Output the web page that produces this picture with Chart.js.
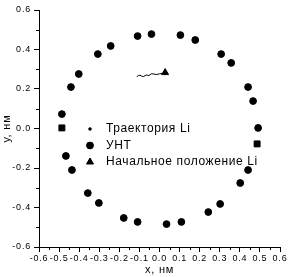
<!DOCTYPE html>
<html><head><meta charset="utf-8">
<script src="https://cdn.jsdelivr.net/npm/chart.js@4/dist/chart.umd.min.js"></script>
<style>html,body{margin:0;padding:0;background:#fff}#wrap{width:290px;height:277px}</style>
</head><body><div id="wrap"><canvas id="c" width="290" height="277"></canvas></div>
<script>
const xTicks = [-0.6,-0.5,-0.4,-0.3,-0.2,-0.1,0.0,0.1,0.2,0.3,0.4,0.5,0.6];
const yTicks = [-0.6,-0.4,-0.2,0.0,0.2,0.4,0.6];
const trajLabel = 'Траектория Li';
const cntLabel = 'УНТ';
const startLabel = 'Начальное положение Li';
const trajX = [-0.113,-0.105,-0.097,-0.089,-0.079,-0.066,-0.053,-0.041,-0.028,-0.016,0.0,0.012,0.025,0.041];
const trajY = [0.262,0.268,0.270,0.265,0.263,0.271,0.268,0.277,0.276,0.273,0.277,0.279,0.276,0.276];
const cntX = [-0.04,0.104,0.178,0.307,0.357,0.441,0.466,0.491,0.441,0.402,0.302,0.243,0.109,0.035,-0.109,-0.178,-0.302,-0.357,-0.436,-0.466,-0.486,-0.441,-0.402,-0.307,-0.243,-0.109];
const cntY = [0.478,0.473,0.448,0.377,0.332,0.21,0.139,0.003,-0.21,-0.276,-0.382,-0.423,-0.473,-0.484,-0.473,-0.453,-0.377,-0.327,-0.21,-0.139,0.073,0.21,0.276,0.377,0.418,0.468];
const sqX = [-0.486,0.486];
const sqY = [0.003,-0.078];
const startX = [0.028];
const startY = [0.283];

const pts = (xs, ys) => xs.map((x, i) => ({x, y: ys[i]}));
const FONT = '"Liberation Sans", Arial, sans-serif';

const spacing = {
  id: 'spacing',
  beforeLayout(chart) { chart.ctx.letterSpacing = '0.8px'; },
  beforeDraw(chart) { chart.ctx.letterSpacing = '0.8px'; }
};

const minorTicks = {
  id: 'minorTicks',
  afterDraw(chart) {
    const ctx = chart.ctx;
    ctx.save();
    ctx.strokeStyle = '#000';
    ctx.lineWidth = 1;
    const xs = chart.scales.x, ys = chart.scales.y;
    for (let i = 0; i < xTicks.length - 1; i++) {
      const px = Math.round(xs.getPixelForValue((xTicks[i] + xTicks[i+1]) / 2)) + 0.5;
      ctx.beginPath(); ctx.moveTo(px, xs.top); ctx.lineTo(px, xs.top + 3); ctx.stroke();
    }
    for (let i = 0; i < yTicks.length - 1; i++) {
      const py = Math.round(ys.getPixelForValue((yTicks[i] + yTicks[i+1]) / 2)) + 0.5;
      ctx.beginPath(); ctx.moveTo(ys.right, py); ctx.lineTo(ys.right - 3, py); ctx.stroke();
    }
    ctx.restore();
  }
};

const insideLegend = {
  id: 'insideLegend',
  afterDraw(chart, args, opts) {
    const ctx = chart.ctx;
    ctx.save();
    ctx.letterSpacing = opts.letterSpacing;
    ctx.font = opts.fontSize + 'px ' + FONT;
    ctx.textBaseline = 'middle';
    ctx.fillStyle = '#000';
    let row = 0;
    chart.data.datasets.forEach(ds => {
      if (ds.legendHide) return;
      const y = chart.chartArea.top + opts.top + row * opts.rowGap;
      const x = chart.chartArea.left + opts.left;
      Chart.helpers.drawPoint(ctx, {pointStyle: ds.legendStyle, radius: ds.legendRadius, rotation: 0, borderWidth: 1}, x, y);
      ctx.fillStyle = '#000';
      ctx.fill();
      ctx.fillText(ds.label, x + opts.textGap, y);
      row++;
    });
    ctx.restore();
  }
};

new Chart(document.getElementById('c'), {
  type: 'scatter',
  data: {
    datasets: [
      {label: trajLabel, data: pts(trajX, trajY), showLine: true, borderColor: '#000', borderWidth: 1, pointRadius: 0, legendStyle: 'rect', legendRadius: 1.5},
      {label: cntLabel, data: pts(cntX, cntY), backgroundColor: '#000', borderColor: '#000', pointStyle: 'circle', pointRadius: 3.4, legendStyle: 'circle', legendRadius: 3.4},
      {label: 'squares', legendHide: true, data: pts(sqX, sqY), backgroundColor: '#000', borderColor: '#000', pointStyle: 'rect', pointRadius: 4.2},
      {label: startLabel, data: pts(startX, startY), backgroundColor: '#000', borderColor: '#000', pointStyle: 'triangle', pointRadius: 4, legendStyle: 'triangle', legendRadius: 4}
    ]
  },
  options: {
    responsive: false,
    animation: false,
    layout: {padding: {top: 10, right: 10, left: 0, bottom: 0}},
    plugins: {
      legend: {display: false},
      tooltip: {enabled: false},
      insideLegend: {left: 51, top: 119, rowGap: 16.5, textGap: 16, fontSize: 12, letterSpacing: '0.6px'}
    },
    scales: {
      x: {
        type: 'linear', min: -0.6, max: 0.6,
        afterBuildTicks: s => { s.ticks = xTicks.map(v => ({value: v})); },
        afterFit: s => { s.height = 30; },
        border: {display: true, color: '#000', width: 1},
        grid: {drawOnChartArea: false, tickLength: 5, color: '#000', tickColor: '#000'},
        ticks: {color: '#000', font: {family: FONT, size: 9}, padding: 1, maxRotation: 0, autoSkip: false,
          callback: v => v.toFixed(1)},
        title: {display: true, text: 'x, нм', color: '#000', font: {family: FONT, size: 11}, padding: 0}
      },
      y: {
        type: 'linear', min: -0.6, max: 0.6,
        afterBuildTicks: s => { s.ticks = yTicks.map(v => ({value: v})); },
        afterFit: s => { s.width = 39; },
        border: {display: true, color: '#000', width: 1},
        grid: {drawOnChartArea: false, tickLength: 5, color: '#000', tickColor: '#000'},
        ticks: {color: '#000', font: {family: FONT, size: 9}, padding: 3, autoSkip: false,
          callback: v => v.toFixed(1)},
        title: {display: true, text: 'у, нм', color: '#000', font: {family: FONT, size: 11}, padding: 0}
      }
    }
  },
  plugins: [spacing, minorTicks, insideLegend]
});
</script>
</body></html>
